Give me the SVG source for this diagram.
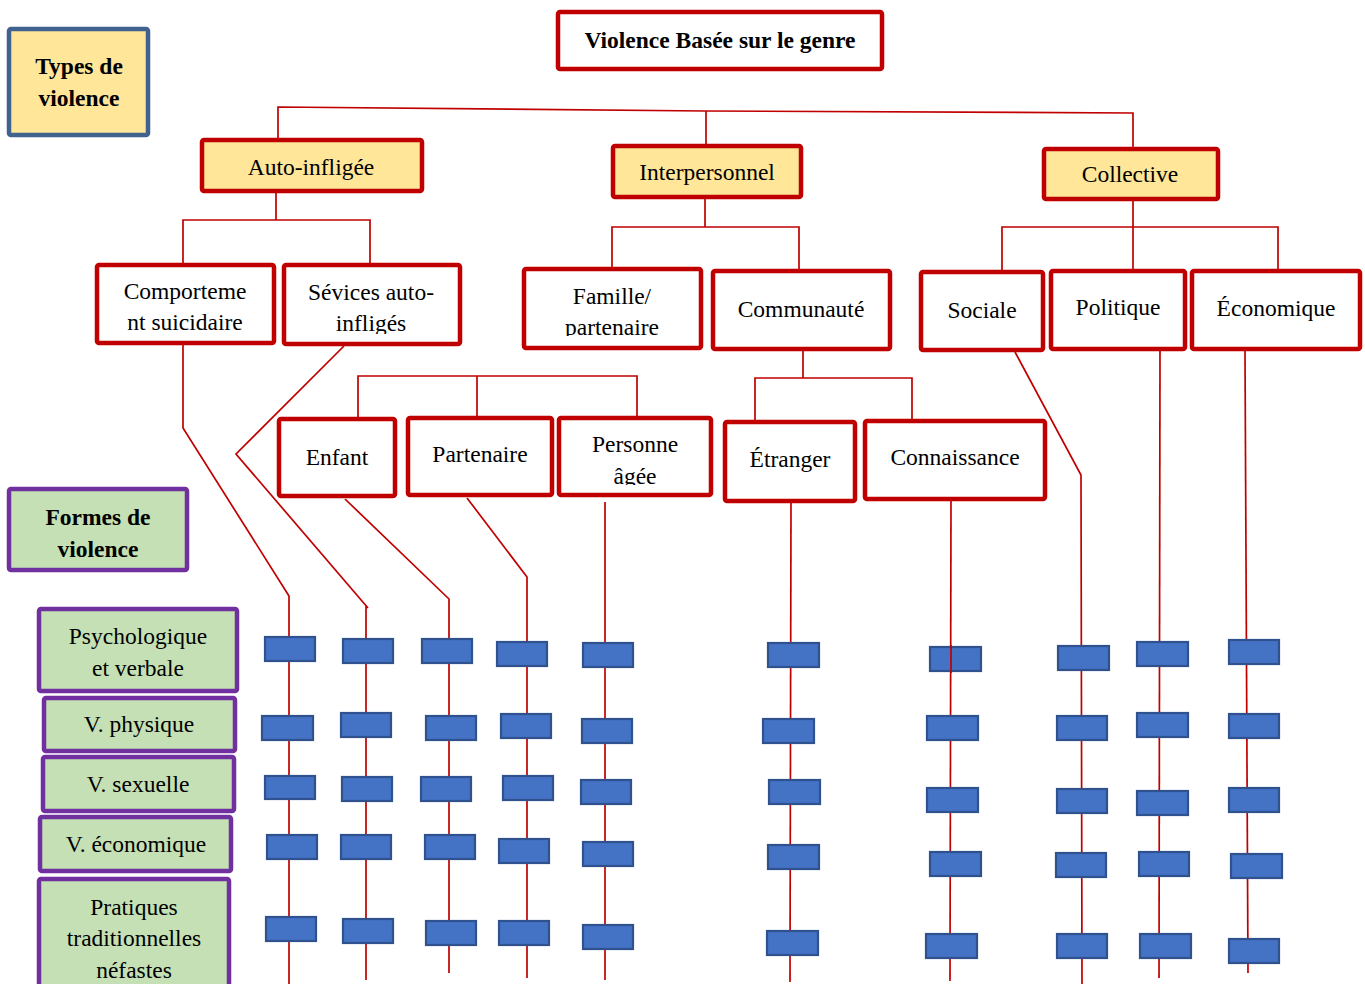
<svg xmlns="http://www.w3.org/2000/svg" width="1365" height="984" viewBox="0 0 1365 984">
<defs>
<style>
text{font-family:"Liberation Serif","Times New Roman",serif;font-size:23.5px;text-anchor:middle;fill:#000}
.t{font-weight:bold}
.n rect{fill:#fff;stroke:#C00000;stroke-width:4.5}
.y rect{fill:#FFE699;stroke:#C00000;stroke-width:4.5}
.k rect{fill:#FFE699;stroke:#41618F;stroke-width:4.5}
.g rect{fill:#C5E0B4;stroke:#7030A0;stroke-width:4.5}
.b rect{fill:#4472C4;stroke:#2F528F;stroke-width:2.2}
.c path{fill:none;stroke:#C00000;stroke-width:1.7}
</style>
<clipPath id="clipSev"><rect x="284" y="265" width="176" height="69"/></clipPath>
<clipPath id="clipFam"><rect x="524" y="269" width="177" height="67"/></clipPath>
<clipPath id="clipPers"><rect x="559" y="418" width="152" height="67"/></clipPath>
</defs>
<rect width="1365" height="984" fill="#fff"/>

<g id="connectors" class="c">
<path d="M278 140 V107 L706 111 L1133 113 V147"/>
<path d="M706 111 V146"/>
<path d="M276 193 V220 M183 265 V220 H370 V265"/>
<path d="M705 199 V227 M612 269 V227 H799 V271"/>
<path d="M1133 200 V269 M1002 272 V227 H1278 V271"/>
<path d="M803 351 V378 M755 422 V378 H912 V421"/>
<path d="M358 419 V376 H637 V418 M477 376 V418"/>
<path d="M183 344 V428 L289 596 V984"/>
<path d="M344 346 L236 454 L368 608 M366 606 V980"/>
<path d="M345 499 L449 599 V973"/>
<path d="M467 498 L527 577 V978"/>
<path d="M605 502 V980"/>
<path d="M791 502 L790 982"/>
<path d="M951 501 L950 981"/>
<path d="M1015 352 L1081 475 L1082 984"/>
<path d="M1160 351 L1159 978"/>
<path d="M1245 351 L1248 973"/>
</g>

<g id="top" class="n"><rect x="558" y="12" width="324" height="57" rx="2"/><text class="t" x="720" y="48">Violence Basée sur le genre</text></g>
<g id="types" class="k"><rect x="9" y="29" width="139" height="106" rx="2"/><text class="t" x="79" y="74">Types de</text><text class="t" x="79" y="106">violence</text></g>

<g id="auto" class="y"><rect x="202" y="140" width="220" height="51" rx="2"/><text x="311" y="175">Auto-infligée</text></g>
<g id="inter" class="y"><rect x="613" y="146" width="188" height="51" rx="2"/><text x="707" y="180">Interpersonnel</text></g>
<g id="collective" class="y"><rect x="1044" y="149" width="174" height="50" rx="2"/><text x="1130" y="182">Collective</text></g>

<g id="comportement" class="n"><rect x="97" y="265" width="177" height="78" rx="2"/><text x="185" y="299">Comporteme</text><text x="185" y="330">nt suicidaire</text></g>
<g id="sevices" class="n"><rect x="284" y="265" width="176" height="79" rx="2"/><g clip-path="url(#clipSev)"><text x="371" y="300">Sévices auto-</text><text x="371" y="331">infligés</text></g></g>
<g id="famille" class="n"><rect x="524" y="269" width="177" height="79" rx="2"/><g clip-path="url(#clipFam)"><text x="612" y="304">Famille/</text><text x="612" y="335">partenaire</text></g></g>
<g id="communaute" class="n"><rect x="713" y="271" width="177" height="78" rx="2"/><text x="801" y="317">Communauté</text></g>
<g id="sociale" class="n"><rect x="921" y="272" width="122" height="78" rx="2"/><text x="982" y="318">Sociale</text></g>
<g id="politique" class="n"><rect x="1051" y="271" width="134" height="78" rx="2"/><text x="1118" y="315">Politique</text></g>
<g id="economique" class="n"><rect x="1192" y="271" width="168" height="78" rx="2"/><text x="1276" y="316">Économique</text></g>

<g id="enfant" class="n"><rect x="279" y="419" width="116" height="77" rx="2"/><text x="337" y="465">Enfant</text></g>
<g id="partenaire" class="n"><rect x="408" y="418" width="144" height="77" rx="2"/><text x="480" y="462">Partenaire</text></g>
<g id="personne" class="n"><rect x="559" y="418" width="152" height="77" rx="2"/><g clip-path="url(#clipPers)"><text x="635" y="452">Personne</text><text x="635" y="484">âgée</text></g></g>
<g id="etranger" class="n"><rect x="725" y="422" width="130" height="79" rx="2"/><text x="790" y="467">Étranger</text></g>
<g id="connaissance" class="n"><rect x="865" y="421" width="180" height="78" rx="2"/><text x="955" y="465">Connaissance</text></g>

<g id="formes" class="g"><rect x="9" y="489" width="178" height="81" rx="2"/><text class="t" x="98" y="525">Formes de</text><text class="t" x="98" y="557">violence</text></g>
<g id="psycho" class="g"><rect x="39" y="609" width="198" height="82" rx="2"/><text x="138" y="644">Psychologique</text><text x="138" y="676">et verbale</text></g>
<g id="physique" class="g"><rect x="44" y="698" width="191" height="53" rx="2"/><text x="139" y="732">V. physique</text></g>
<g id="sexuelle" class="g"><rect x="43" y="757" width="191" height="54" rx="2"/><text x="138" y="792">V. sexuelle</text></g>
<g id="econ" class="g"><rect x="40" y="817" width="191" height="54" rx="2"/><text x="136" y="852">V. économique</text></g>
<g id="pratiques" class="g"><rect x="39" y="879" width="190" height="120" rx="2"/><text x="134" y="915">Pratiques</text><text x="134" y="946">traditionnelles</text><text x="134" y="978">néfastes</text></g>

<g id="col1" class="b">
<rect x="265" y="637" width="50" height="24"/><rect x="262" y="716" width="51" height="24"/><rect x="265" y="776" width="50" height="23"/><rect x="267" y="835" width="50" height="24"/><rect x="266" y="917" width="50" height="24"/>
</g>
<g id="col2" class="b">
<rect x="343" y="639" width="50" height="24"/><rect x="341" y="713" width="50" height="24"/><rect x="342" y="777" width="50" height="24"/><rect x="341" y="835" width="50" height="24"/><rect x="343" y="919" width="50" height="24"/>
</g>
<g id="col3" class="b">
<rect x="422" y="639" width="50" height="24"/><rect x="426" y="716" width="50" height="24"/><rect x="421" y="777" width="50" height="24"/><rect x="425" y="835" width="50" height="24"/><rect x="426" y="921" width="50" height="24"/>
</g>
<g id="col4" class="b">
<rect x="497" y="642" width="50" height="24"/><rect x="501" y="714" width="50" height="24"/><rect x="503" y="776" width="50" height="24"/><rect x="499" y="839" width="50" height="24"/><rect x="499" y="921" width="50" height="24"/>
</g>
<g id="col5" class="b">
<rect x="583" y="643" width="50" height="24"/><rect x="582" y="719" width="50" height="24"/><rect x="581" y="780" width="50" height="24"/><rect x="583" y="842" width="50" height="24"/><rect x="583" y="925" width="50" height="24"/>
</g>
<g id="col6" class="b">
<rect x="768" y="643" width="51" height="24"/><rect x="763" y="719" width="51" height="24"/><rect x="769" y="780" width="51" height="24"/><rect x="768" y="845" width="51" height="24"/><rect x="767" y="931" width="51" height="24"/>
</g>
<g id="col7" class="b">
<rect x="930" y="647" width="51" height="24"/><rect x="927" y="716" width="51" height="24"/><rect x="927" y="788" width="51" height="24"/><rect x="930" y="852" width="51" height="24"/><rect x="926" y="934" width="51" height="24"/>
</g>
<g id="col8" class="b">
<rect x="1058" y="646" width="51" height="24"/><rect x="1057" y="716" width="50" height="24"/><rect x="1057" y="789" width="50" height="24"/><rect x="1056" y="853" width="50" height="24"/><rect x="1057" y="934" width="50" height="24"/>
</g>
<g id="col9" class="b">
<rect x="1137" y="642" width="51" height="24"/><rect x="1137" y="713" width="51" height="24"/><rect x="1137" y="791" width="51" height="24"/><rect x="1139" y="852" width="50" height="24"/><rect x="1140" y="934" width="51" height="24"/>
</g>
<g id="col10" class="b">
<rect x="1229" y="640" width="50" height="24"/><rect x="1229" y="714" width="50" height="24"/><rect x="1229" y="788" width="50" height="24"/><rect x="1231" y="854" width="51" height="24"/><rect x="1229" y="939" width="50" height="24"/>
</g>
<g id="connector-overlay" class="c"><path d="M951 645 V673"/></g>
</svg>
